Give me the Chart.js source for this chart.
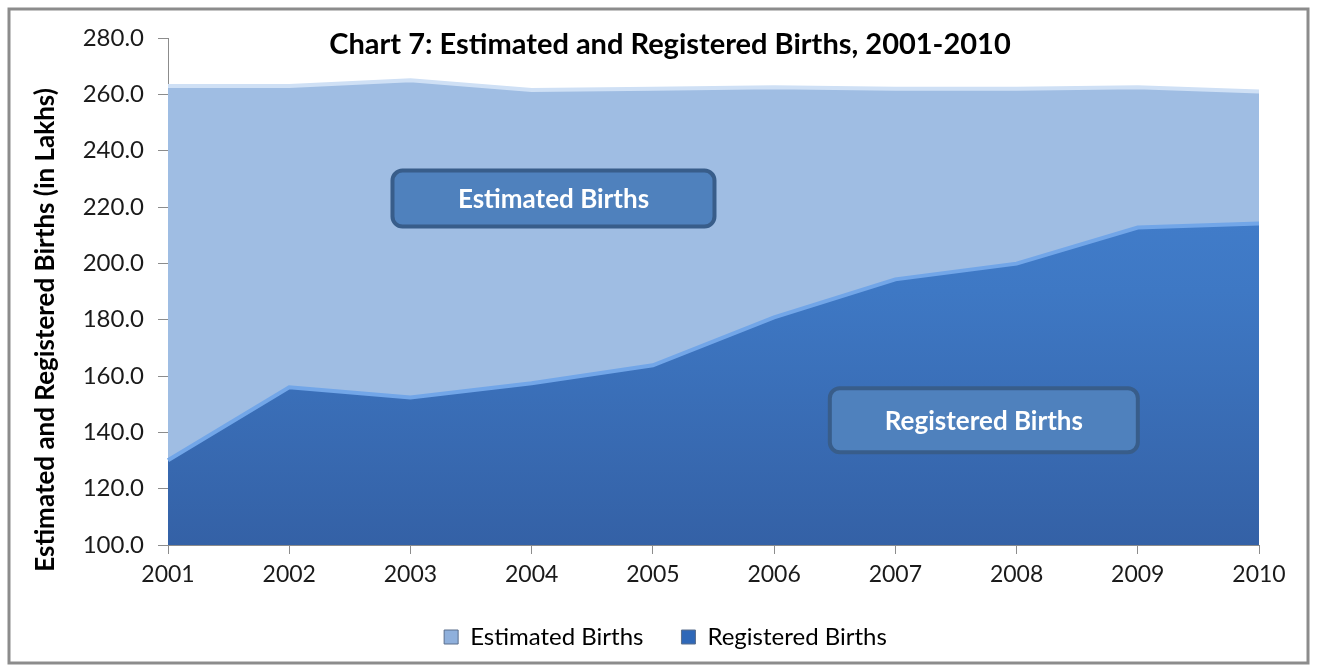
<!DOCTYPE html>
<html>
<head>
<meta charset="utf-8">
<script src="https://cdn.jsdelivr.net/npm/chart.js@4"></script>
<style>
  html, body { margin: 0; padding: 0; background: #fff; }
  #wrap { width: 1317px; height: 671px; position: relative; }
</style>
</head>
<body>
<div id="wrap"><canvas id="births"></canvas></div>
<script>
// Chart 7 data (lakhs)
const years = ['2001', '2002', '2003', '2004', '2005', '2006', '2007', '2008', '2009', '2010'];
const estimatedBirths = [263.0, 263.0, 265.0, 261.5, 262.0, 262.5, 262.0, 262.0, 262.5, 261.0];
const registeredBirths = [130.1, 156.0, 152.4, 157.4, 163.8, 180.8, 194.3, 199.9, 212.7, 214.1];
const yTicks = { min: 100, max: 280, step: 20 };

const FONT = 'Lato, "Open Sans", sans-serif';

// frame + titles + callout boxes
const decorations = {
    id: 'decorations',
    afterLayout(chart) {
        // wide item spacing pushes the legend low; lift it back up
        if (chart.legend) {
            chart.legend.top -= 12;
            chart.legend.bottom -= 12;
            chart.legend.left += 25;
            chart.legend.right += 25;
        }
    },
    beforeDraw(chart) {
        const ctx = chart.ctx;
        ctx.save();
        ctx.fillStyle = '#fff';
        ctx.fillRect(0, 0, chart.width, chart.height);
        ctx.strokeStyle = '#8c8c8c';
        ctx.lineWidth = 3;
        ctx.strokeRect(9, 9, chart.width - 18, chart.height - 17);
        ctx.restore();
    },
    afterDraw(chart) {
        const ctx = chart.ctx;
        const x = chart.scales.x, y = chart.scales.y;
        ctx.save();
        ctx.fillStyle = '#000';
        ctx.font = 'bold 29px ' + FONT;
        ctx.textAlign = 'center';
        ctx.textBaseline = 'middle';
        ctx.fillText('Chart 7: Estimated and Registered Births, 2001-2010', 670, 45);

        // y axis title sits a little below the axis middle in the original
        ctx.save();
        ctx.translate(46, 330);
        ctx.rotate(-Math.PI / 2);
        ctx.font = 'bold 26px ' + FONT;
        ctx.fillText('Estimated and Registered Births (in Lakhs)', 0, 0);
        ctx.restore();

        const boxes = [
            { text: 'Estimated Births', xi: 3.18, v: 223, w: 322, h: 56 },
            { text: 'Registered Births', xi: 6.73, v: 144.3, w: 308, h: 64 }
        ];
        boxes.forEach(b => {
            const cx = x.getPixelForValue(0) + (x.getPixelForValue(1) - x.getPixelForValue(0)) * b.xi;
            const cy = y.getPixelForValue(b.v);
            ctx.beginPath();
            ctx.roundRect(cx - b.w / 2, cy - b.h / 2, b.w, b.h, 10);
            ctx.fillStyle = '#4f81bd';
            ctx.fill();
            ctx.lineWidth = 4;
            ctx.strokeStyle = '#385d8a';
            ctx.stroke();
            ctx.fillStyle = '#fff';
            ctx.font = 'bold 26px ' + FONT;
            ctx.fillText(b.text, cx, cy + 1);
        });
        ctx.restore();
    }
};

function registeredFill(context) {
    const area = context.chart.chartArea;
    if (!area) return '#3f77c2';
    const g = context.chart.ctx.createLinearGradient(0, area.top, 0, area.bottom);
    g.addColorStop(0, '#4886d6');
    g.addColorStop(0.5, '#3e78c4');
    g.addColorStop(1, '#3461a6');
    return g;
}

new Chart(document.getElementById('births'), {
    type: 'line',
    data: {
        labels: years,
        datasets: [{
            label: 'Estimated Births',
            data: estimatedBirths,
            borderColor: '#cfe0f5',
            borderWidth: 4,
            backgroundColor: '#9fbde3',
            fill: 'start',
            pointRadius: 0,
            tension: 0,
            order: 2
        }, {
            label: 'Registered Births',
            data: registeredBirths,
            borderColor: '#72a6e8',
            borderWidth: 4,
            backgroundColor: registeredFill,
            fill: 'start',
            pointRadius: 0,
            tension: 0,
            order: 1
        }]
    },
    options: {
        responsive: true,
        maintainAspectRatio: false,
        animation: false,
        layout: { padding: { left: 22, right: 58, top: 38, bottom: 0 } },
        plugins: {
            legend: {
                position: 'bottom',
                labels: {
                    font: { family: FONT, size: 24 },
                    color: '#1a1a1a',
                    boxWidth: 14,
                    boxHeight: 14,
                    padding: 38,
                    generateLabels(chart) {
                        const fills = ['#8fb0dc', '#2f68b8'];
                        return chart.data.datasets.map((ds, i) => ({
                            text: ds.label,
                            fillStyle: fills[i],
                            strokeStyle: '#5a6f8c',
                            lineWidth: 1,
                            datasetIndex: i
                        }));
                    }
                }
            },
            tooltip: { enabled: false }
        },
        scales: {
            x: {
                offset: false,
                grid: { display: true, drawOnChartArea: false, tickLength: 9, color: '#8c8c8c' },
                border: { display: true, color: '#8c8c8c', width: 1 },
                ticks: { font: { family: FONT, size: 23 }, color: '#1a1a1a', padding: 7, maxRotation: 0 },
                afterFit(scale) { scale.height = 54; }
            },
            y: {
                min: yTicks.min,
                max: yTicks.max,
                grid: { display: true, drawOnChartArea: false, tickLength: 10, color: '#8c8c8c' },
                border: { display: true, color: '#8c8c8c', width: 1 },
                ticks: {
                    stepSize: yTicks.step,
                    font: { family: FONT, size: 24 },
                    color: '#1a1a1a',
                    padding: 14,
                    callback: v => v.toFixed(1)
                },
                afterFit(scale) { scale.width = 146; }
            }
        }
    },
    plugins: [decorations]
});
</script>
</body>
</html>
